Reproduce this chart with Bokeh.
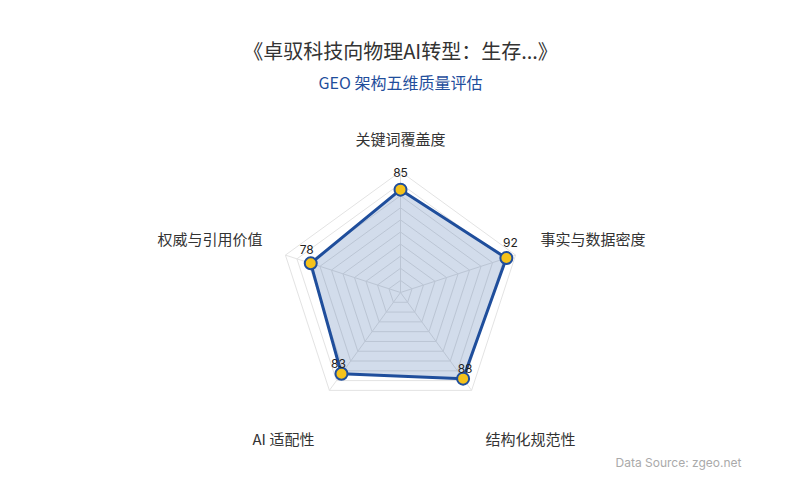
import numpy as np
from bokeh.plotting import figure
from bokeh.models import ColumnDataSource, Label, Range1d
from bokeh.core.properties import value
from bokeh.embed import file_html
from bokeh.resources import INLINE

# ---- data ----
title_text = "《卓驭科技向物理AI转型：生存...》"
subtitle_text = "GEO 架构五维质量评估"
source_text = "Data Source: zgeo.net"
categories = ["关键词覆盖度", "事实与数据密度", "结构化规范性", "AI 适配性", "权威与引用价值"]
scores = [85, 92, 88, 83, 78]
max_score = 100
ring_levels = [10, 20, 30, 40, 50, 60, 70, 80, 90, 100]

# ---- layout ----
W, H = 784, 484
R_PX = 121.0           # pixel radius of the 100 ring
CX, CY = 400.0, 192.0  # centre, px from left / bottom of canvas

FONT = "Noto Sans CJK SC"
BLUE = "#1f4e9c"
YELLOW = "#f5c21b"

p = figure(width=W, height=H, output_backend="svg", toolbar_location=None,
           min_border=0, min_border_left=0, min_border_right=0,
           min_border_top=0, min_border_bottom=0)
p.x_range = Range1d(-CX / R_PX, (W - CX) / R_PX)
p.y_range = Range1d(-CY / R_PX, (H - CY) / R_PX)
p.axis.visible = False
p.grid.visible = False
p.outline_line_color = None
p.background_fill_color = "white"
p.border_fill_color = "white"

n = len(categories)
angles = np.pi / 2 - np.arange(n) * 2 * np.pi / n
cos_a, sin_a = np.cos(angles), np.sin(angles)

# grid rings
for lv in ring_levels:
    r = lv / max_score
    xs = list(r * cos_a) + [r * cos_a[0]]
    ys = list(r * sin_a) + [r * sin_a[0]]
    p.line(xs, ys, line_color="#e3e3e3", line_width=1)

# spokes
p.multi_line([[0, c] for c in cos_a], [[0, s] for s in sin_a],
             line_color="#e3e3e3", line_width=1)

# data polygon
vals = np.array(scores) / max_score
px_ = vals * cos_a
py_ = vals * sin_a
p.patch(list(px_), list(py_), fill_color=BLUE, fill_alpha=0.2, line_color=None)
p.line(list(px_) + [px_[0]], list(py_) + [py_[0]], line_color=BLUE, line_width=3,
       line_join="round")
p.scatter(px_, py_, size=12, fill_color=YELLOW, line_color=BLUE, line_width=2)

# value labels
vsrc = ColumnDataSource(dict(x=px_, y=py_, t=[str(s) for s in scores],
                             dx=[0, 4, 2, -3, -4], dy=[-17, -16, -10, -10, -14]))
p.text(x="x", y="y", text="t", source=vsrc, x_offset="dx", y_offset="dy",
       text_align="center", text_baseline="middle", text_font=value("Inter"),
       text_font_size="12px", text_color="#222222")

# category labels
csrc = ColumnDataSource(dict(x=cos_a, y=sin_a, t=categories,
                             dx=[0, 25, 14, -15, -23],
                             dy=[-33, -17, 48, 48, -17],
                             al=["center", "left", "left", "right", "right"]))
p.text(x="x", y="y", text="t", source=csrc, x_offset="dx", y_offset="dy",
       text_align="al", text_baseline="middle", text_font=value(FONT),
       text_font_size="15px", text_color="#333333")

# titles
p.add_layout(Label(x=W / 2 + 8, y=H - 50, x_units="screen", y_units="screen",
                   text=title_text, text_align="center", text_baseline="middle",
                   text_font=FONT, text_font_size="20px", text_color="#333333"))
p.add_layout(Label(x=W / 2 + 8, y=H - 81, x_units="screen", y_units="screen",
                   text=subtitle_text, text_align="center", text_baseline="middle",
                   text_font=FONT, text_font_size="16px", text_color="#1f4e9c"))
p.add_layout(Label(x=W - 43, y=H - 462, x_units="screen", y_units="screen",
                   text=source_text, text_align="right", text_baseline="middle",
                   text_font="Inter", text_font_size="12px", text_color="#aaaaaa"))

open("out.html", "w").write(file_html(p, INLINE))
